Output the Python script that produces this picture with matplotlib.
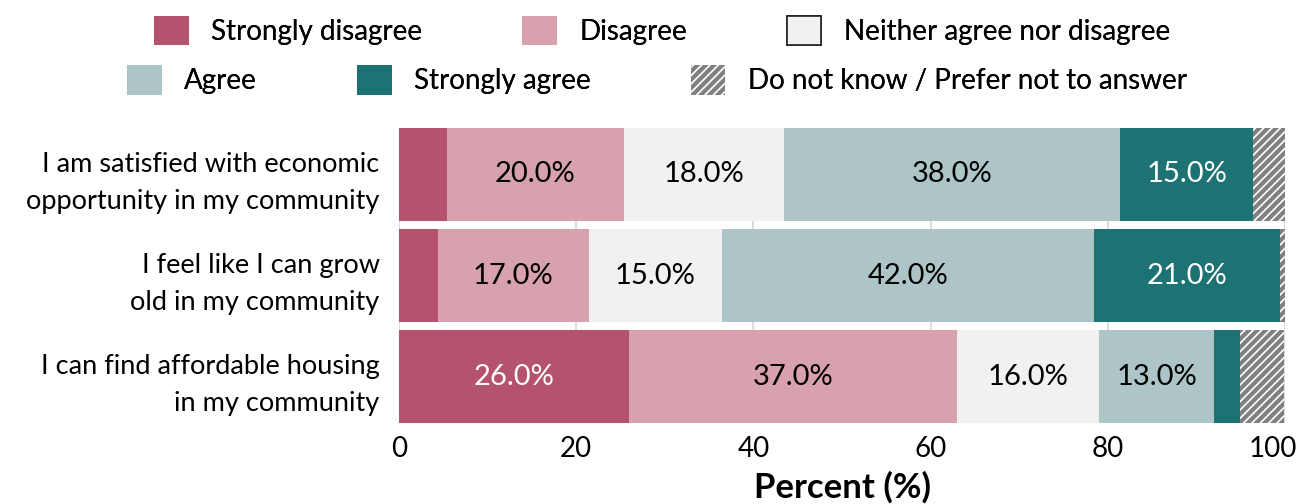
import matplotlib
matplotlib.use("Agg")
import matplotlib.pyplot as plt
from matplotlib.patches import Patch
from matplotlib.transforms import ScaledTranslation
import numpy as np

# --- data ---
statements = [
    "I am satisfied with economic\nopportunity in my community",
    "I feel like I can grow\nold in my community",
    "I can find affordable housing\nin my community",
]
responses = [
    "Strongly disagree",
    "Disagree",
    "Neither agree nor disagree",
    "Agree",
    "Strongly agree",
    "Do not know / Prefer not to answer",
]
strongly_disagree = [5.4, 4.4, 26.0]
disagree = [20.0, 17.0, 37.0]
neither = [18.0, 15.0, 16.0]
agree = [38.0, 42.0, 13.0]
strongly_agree = [15.0, 21.0, 2.9]
dont_know = [3.6, 0.6, 5.0]
x_ticks = [0, 20, 40, 60, 80, 100]

colors = ["#b5536f", "#d7a1ae", "#f2f0f1", "#adc5c6", "#1d7373", "#808080"]
text_colors = ["white", "black", "black", "black", "white", None]

plt.rcParams["font.family"] = ["Lato", "DejaVu Sans"]
plt.rcParams["hatch.linewidth"] = 1.2

fig = plt.figure(figsize=(12.98, 5.04), dpi=100)
ax = fig.add_axes([0.3074, 0.1607, 0.6826, 0.5853])

series = [strongly_disagree, disagree, neither, agree, strongly_agree, dont_know]
y = np.arange(len(statements))
left = np.zeros(len(statements))
for i, vals in enumerate(series):
    vals = np.array(vals)
    if i == 5:
        ax.barh(y, vals, left=left, height=0.92, color=colors[i],
                edgecolor="white", linewidth=0, hatch="////", zorder=2)
    else:
        ax.barh(y, vals, left=left, height=0.92, color=colors[i],
                linewidth=0, zorder=2)
        for j, v in enumerate(vals):
            if v >= 10:
                ax.text(left[j] + v / 2, y[j], f"{v:.1f}%", ha="center",
                        va="center", fontsize=21, color=text_colors[i], zorder=3)
    left += vals

ax.set_xlim(0, 100)
ax.set_ylim(2.46, -0.46)
ax.set_yticks(y)
ax.set_yticklabels(statements, fontsize=19.5, linespacing=1.6)
# nudge category labels up a touch
for lab in ax.get_yticklabels():
    lab.set_transform(lab.get_transform() + ScaledTranslation(0, 4 / 100, fig.dpi_scale_trans))
ax.set_xticks(x_ticks)
ax.set_xticklabels([str(t) for t in x_ticks], fontsize=20)
ax.tick_params(axis="x", length=0, pad=9)
ax.tick_params(axis="y", length=0, pad=14)
# keep the last tick label inside the figure
last = ax.get_xticklabels()[-1]
last.set_transform(last.get_transform() + ScaledTranslation(-12 / 100, 0, fig.dpi_scale_trans))
ax.xaxis.grid(True, color="#dddddd", linewidth=1.5, zorder=0)
ax.set_axisbelow(True)
for s in ax.spines.values():
    s.set_visible(False)
ax.set_xlabel("Percent (%)", fontsize=25, fontweight="bold", labelpad=7)

# legend, two centered rows
def handle(i):
    if i == 5:
        return Patch(facecolor=colors[i], edgecolor="white", linewidth=0, hatch="////")
    if i == 2:
        return Patch(facecolor=colors[i], edgecolor="#222222", linewidth=1.2)
    return Patch(facecolor=colors[i], linewidth=0)

for row, xpos, ypos in [(0, 0.510, 0.940), (1, 0.506, 0.841)]:
    idx = range(row * 3, row * 3 + 3)
    leg = fig.legend([handle(i) for i in idx], [responses[i] for i in idx],
                     loc="center", bbox_to_anchor=(xpos, ypos), ncol=3,
                     frameon=False, fontsize=20, handlelength=1.25,
                     handleheight=1.25, handletextpad=0.8, columnspacing=3.6)
    fig.add_artist(leg)

fig.savefig("out.png", dpi=100)
